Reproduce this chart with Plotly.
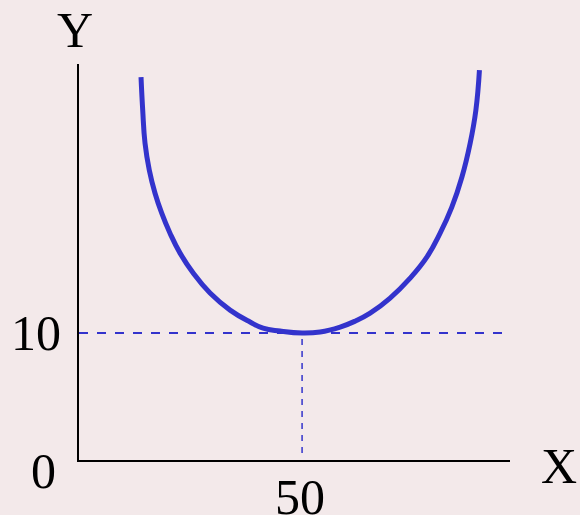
import plotly.graph_objects as go

# Curve values (U-shaped curve, minimum at X=50, Y=10)
curve_x = [13.90, 14.28, 14.80, 15.76, 17.04, 18.54, 20.40, 22.65, 25.63, 29.37,
           33.86, 38.34, 41.26, 45.07, 50.00, 54.04, 58.52, 61.88, 65.25, 69.73,
           74.22, 77.96, 80.94, 83.56, 85.81, 87.67, 88.95, 89.75]
curve_y = [30.16, 27.56, 24.96, 22.83, 21.02, 19.45, 17.87, 16.30, 14.72, 13.15,
           11.81, 10.87, 10.39, 10.16, 10.00, 10.08, 10.47, 10.94, 11.57, 12.76,
           14.33, 15.98, 17.87, 19.92, 22.28, 24.96, 27.56, 30.71]

min_x = 50
min_y = 10
x_max = 96.6
y_max = 31.2

axis_title_x = "X"
axis_title_y = "Y"
origin_label = "0"
x_tick_label = "50"
y_tick_label = "10"

BLUE = "#3333cc"
FONT = "Liberation Serif"

fig = go.Figure()

# horizontal dashed guide at min_y
fig.add_trace(go.Scatter(x=[0, x_max], y=[min_y, min_y], mode="lines",
                         line=dict(color=BLUE, width=2, dash="dash"),
                         hoverinfo="skip", showlegend=False))
# vertical dashed guide at min_x
fig.add_trace(go.Scatter(x=[min_x, min_x], y=[0.55, min_y], mode="lines",
                         line=dict(color=BLUE, width=1.5, dash="6px,6px"),
                         hoverinfo="skip", showlegend=False))
# main curve
fig.add_trace(go.Scatter(x=curve_x, y=curve_y, mode="lines",
                         line=dict(color=BLUE, width=5, shape="spline", smoothing=1.3),
                         showlegend=False))

annotations = [
    dict(x=0, y=y_max, xref="x", yref="y", text=axis_title_y, showarrow=False,
         xshift=-4, yshift=34, font=dict(size=50, color="black", family=FONT)),
    dict(x=x_max, y=0, xref="x", yref="y", text=axis_title_x, showarrow=False,
         xshift=49, yshift=-6, font=dict(size=50, color="black", family=FONT)),
    dict(x=0, y=0, xref="x", yref="y", text=origin_label, showarrow=False,
         xshift=-36, yshift=-11, font=dict(size=50, color="black", family=FONT)),
    dict(x=0, y=min_y, xref="x", yref="y", text=y_tick_label, showarrow=False,
         xshift=-43, yshift=0, font=dict(size=50, color="black", family=FONT)),
    dict(x=min_x, y=0, xref="x", yref="y", text=x_tick_label, showarrow=False,
         xshift=-2, yshift=-37, font=dict(size=50, color="black", family=FONT)),
]

fig.update_layout(
    width=580, height=515,
    margin=dict(l=79, r=70, t=64, b=55),
    paper_bgcolor="#f3e9ea",
    plot_bgcolor="rgba(0,0,0,0)",
    annotations=annotations,
    xaxis=dict(range=[0, x_max], showgrid=False, zeroline=False, showticklabels=False,
               ticks="", showline=True, linecolor="black", linewidth=2, fixedrange=True),
    yaxis=dict(range=[0, y_max], showgrid=False, zeroline=False, showticklabels=False,
               ticks="", showline=True, linecolor="black", linewidth=2, fixedrange=True),
)

fig.write_html("out.html", config={"displayModeBar": False},
               post_script="document.body.style.margin='0';document.body.style.overflow='hidden';")
